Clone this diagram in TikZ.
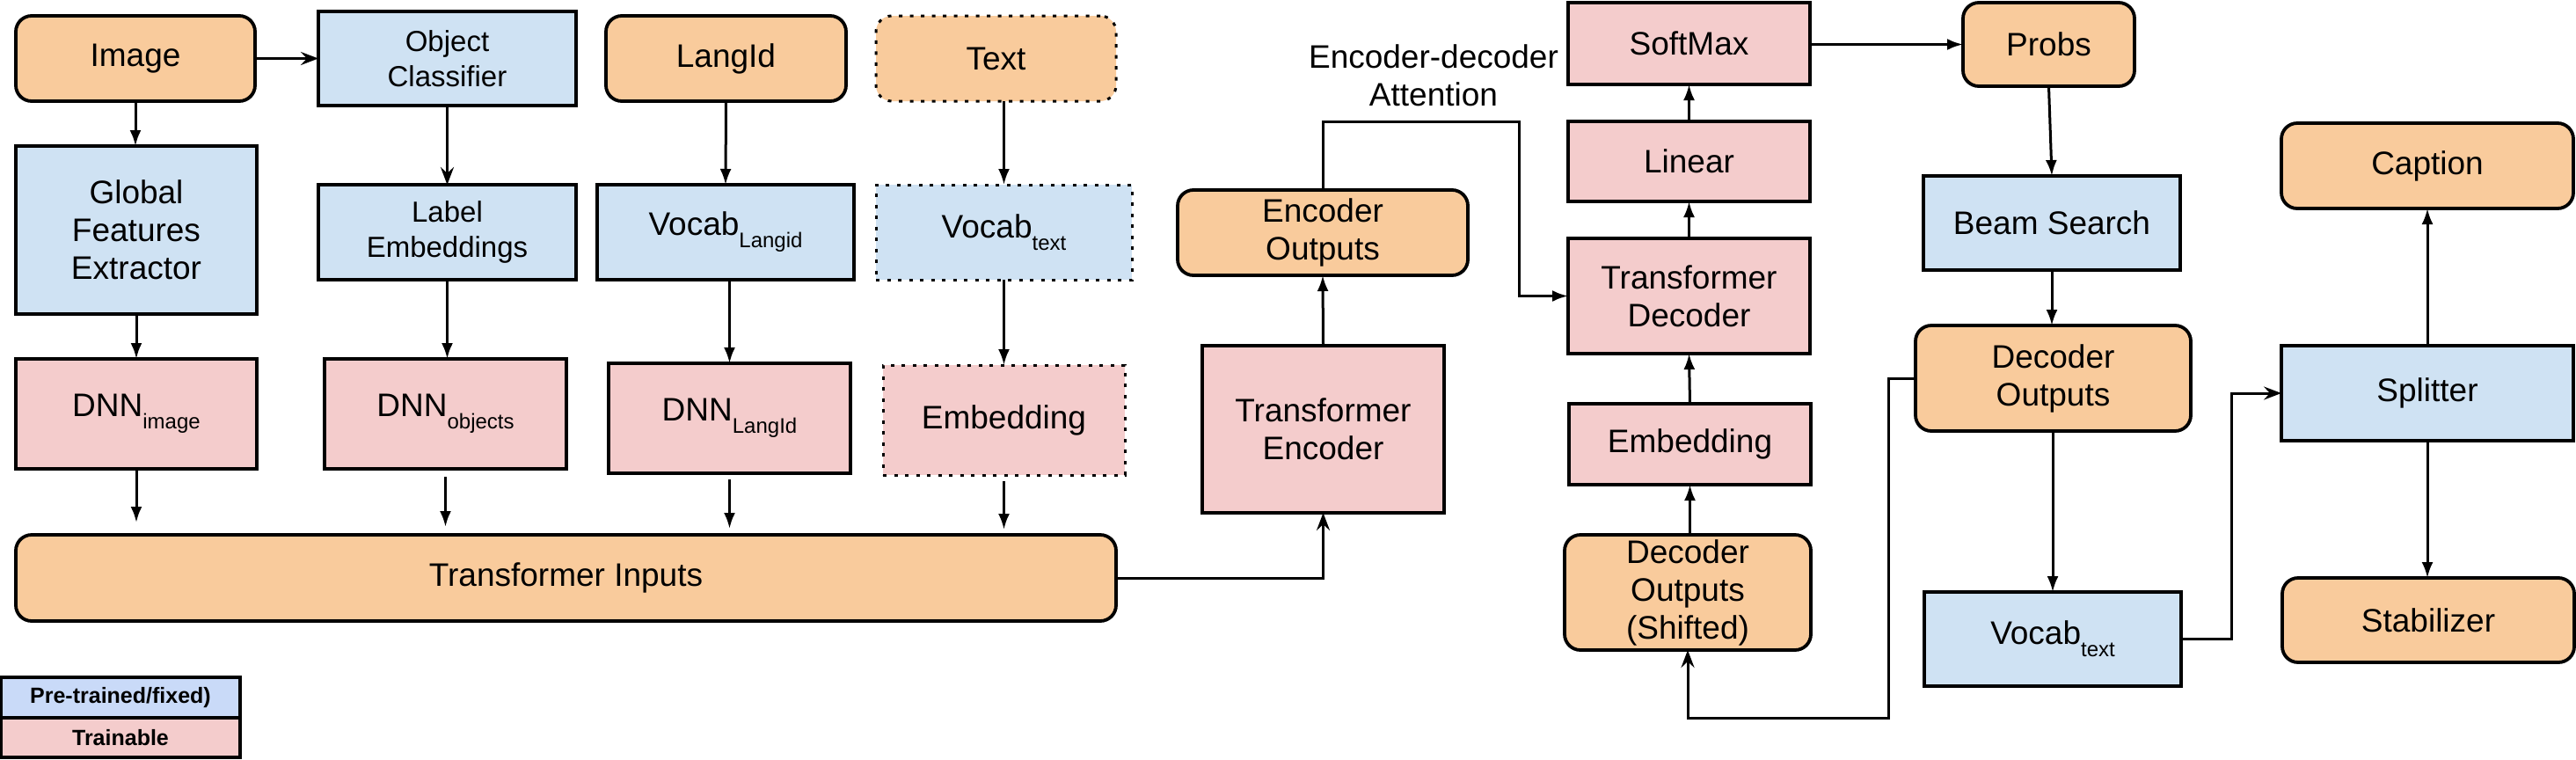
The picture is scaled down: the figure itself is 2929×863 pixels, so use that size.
\documentclass[tikz,border=0pt]{standalone}
\usepackage{fontspec}
\setmainfont{Liberation Sans}
\usetikzlibrary{arrows.meta}
\definecolor{orfill}{HTML}{F9CB9C}
\definecolor{blfill}{HTML}{CFE2F3}
\definecolor{pkfill}{HTML}{F4CCCC}
\definecolor{lgblue}{HTML}{C9DAF8}
\newcommand\mainf{\fontsize{37}{43}\selectfont}
\newcommand\smallf{\fontsize{33}{40}\selectfont}
\newcommand\legf{\fontsize{25}{28}\selectfont\bfseries}
\newcommand\mysub[1]{\raisebox{-14pt}{\fontsize{24}{24}\selectfont #1}}
\tikzset{
  base/.style={draw=black, line width=3.8pt, align=center, inner sep=0pt, outer sep=0pt, font=\mainf, text=black},
  ora/.style={base, fill=orfill, rounded corners=18pt},
  blu/.style={base, fill=blfill},
  pnk/.style={base, fill=pkfill},
  dotb/.style={line width=3pt, dash pattern=on 4pt off 8.5pt},
  legbox/.style={base, font=\legf, line width=3.5pt},
  arr/.style={-{Latex[length=18pt,width=13pt]}, line width=3pt},
  arro/.style={-{Stealth[length=20pt,width=15pt,inset=7pt]}, line width=3pt},
}
\begin{document}
\begin{tikzpicture}[x=1pt,y=-1pt]
\useasboundingbox (0,0) rectangle (2929,863);
% row 1
\node[ora, minimum width=272pt, minimum height=97pt] (img) at (154,66.5) {Image};
\node[blu, font=\smallf, minimum width=293pt, minimum height=107pt] (objc) at (508.5,66.5) {Object\\Classifier};
\node[ora, minimum width=273pt, minimum height=97pt] (lang) at (825.5,66.5) {LangId};
\node[ora, dotb, minimum width=273pt, minimum height=97pt] (text) at (1132.5,66.5) {Text};
% row 2
\node[blu, minimum width=274pt, minimum height=191pt] (gfe) at (155,261.5) {Global\\Features\\Extractor};
\node[blu, font=\smallf, minimum width=293pt, minimum height=108pt] (lemb) at (508.5,264) {Label\\Embeddings};
\node[blu, minimum width=292pt, minimum height=108pt] (vlang) at (825,264) {Vocab\mysub{Langid}};
\node[blu, dotb, minimum width=291pt, minimum height=108pt] (vtext) at (1141.5,264) {Vocab\mysub{text}};
% row 3
\node[pnk, minimum width=274pt, minimum height=125pt] (dimg) at (155,470.5) {DNN\mysub{image}};
\node[pnk, minimum width=275pt, minimum height=125pt] (dobj) at (506.5,470.5) {DNN\mysub{objects}};
\node[pnk, minimum width=275pt, minimum height=125pt] (dlang) at (829.5,475.5) {DNN\mysub{LangId}};
\node[pnk, dotb, minimum width=275pt, minimum height=125pt] (emb1) at (1141.5,477.5) {Embedding};
% transformer inputs
\node[ora, minimum width=1251pt, minimum height=98pt] (ti) at (643.5,657) {Transformer Inputs};
% encoder
\node[pnk, minimum width=275pt, minimum height=190pt] (te) at (1504.5,488) {Transformer\\Encoder};
\node[ora, minimum width=330pt, minimum height=97pt] (eo) at (1504,264.5) {Encoder\\Outputs};
\node[font=\mainf, align=center, inner sep=0pt] (attl) at (1630,86) {Encoder-decoder\\Attention};
% decoder stack
\node[pnk, minimum width=275pt, minimum height=93pt] (sm) at (1920.5,49.5) {SoftMax};
\node[pnk, minimum width=275pt, minimum height=91pt] (lin) at (1920.5,183.5) {Linear};
\node[pnk, minimum width=275pt, minimum height=131pt] (td) at (1920.5,336.5) {Transformer\\Decoder};
\node[pnk, minimum width=275pt, minimum height=92pt] (emb2) at (1921.5,505) {Embedding};
\node[ora, minimum width=280pt, minimum height=131pt] (dos) at (1919,673.5) {Decoder\\Outputs\\(Shifted)};
% right part
\node[ora, minimum width=195pt, minimum height=95pt] (probs) at (2329.5,50.5) {Probs};
\node[blu, minimum width=292pt, minimum height=107pt] (beam) at (2333,253.5) {Beam Search};
\node[ora, minimum width=313pt, minimum height=120pt] (dout) at (2334.5,430) {Decoder\\Outputs};
\node[blu, minimum width=292pt, minimum height=107pt] (vtext2) at (2334,726.5) {Vocab\mysub{text}};
\node[ora, minimum width=332pt, minimum height=97pt] (cap) at (2760,188.5) {Caption};
\node[blu, minimum width=332pt, minimum height=108pt] (split) at (2760,447) {Splitter};
\node[ora, minimum width=332pt, minimum height=96pt] (stab) at (2761,705) {Stabilizer};
% legend
\node[legbox, fill=lgblue, minimum width=272pt, minimum height=46pt] (lg1) at (137,793) {Pre-trained/fixed)};
\node[legbox, fill=pkfill, minimum width=272pt, minimum height=45pt] (lg2) at (137,838.5) {Trainable};
% connectors
\draw[arro] (img.east) -- (objc.west |- img.east);
\draw[arr] (img.south) -- (gfe.north -| img.south);
\draw[arro] (objc.south) -- (lemb.north);
\draw[arr] (lang.south) -- (vlang.north);
\draw[arr] (text.south -| vtext.north) -- (vtext.north);
\draw[arr] (gfe.south) -- (dimg.north);
\draw[arr] (lemb.south) -- (dobj.north -| lemb.south);
\draw[arr] (vlang.south -| dlang.north) -- (dlang.north);
\draw[arr] (vtext.south) -- (emb1.north);
\draw[arr, shorten >=14pt] (dimg.south) -- (ti.north -| dimg.south);
\draw[arr, shorten <=9pt, shorten >=9pt] (dobj.south) -- (ti.north -| dobj.south);
\draw[arr, shorten <=7pt, shorten >=7pt] (dlang.south) -- (ti.north -| dlang.south);
\draw[arr, shorten <=7pt, shorten >=6pt] (emb1.south) -- (ti.north -| emb1.south);
\draw[arro] (ti.east) -| (te.south);
\draw[arr] (te.north) -- (eo.south);
\coordinate (att) at (1727,138);
\draw[arr] (eo.north) |- (att) |- (td.west);
\draw[arr] (dos.north -| emb2.south) -- (emb2.south);
\draw[arr] (emb2.north) -- (td.south);
\draw[arr] (td.north) -- (lin.south);
\draw[arr] (lin.north) -- (sm.south);
\draw[arr] (sm.east |- probs.west) -- (probs.west);
\draw[arr] (probs.south) -- (beam.north);
\draw[arr] (beam.south) -- (dout.north -| beam.south);
\draw[arr] (dout.south -| vtext2.north) -- (vtext2.north);
\coordinate (c1) at (2147,816);
\draw[arro] (dout.west) -| (c1) -| (dos.south);
\coordinate (c2) at (2537,447);
\draw[arro] (vtext2.east) -| (c2) -- (split.west);
\draw[arr] (split.north) -- (cap.south);
\draw[arr] (split.south) -- (stab.north -| split.south);
\end{tikzpicture}
\end{document}
